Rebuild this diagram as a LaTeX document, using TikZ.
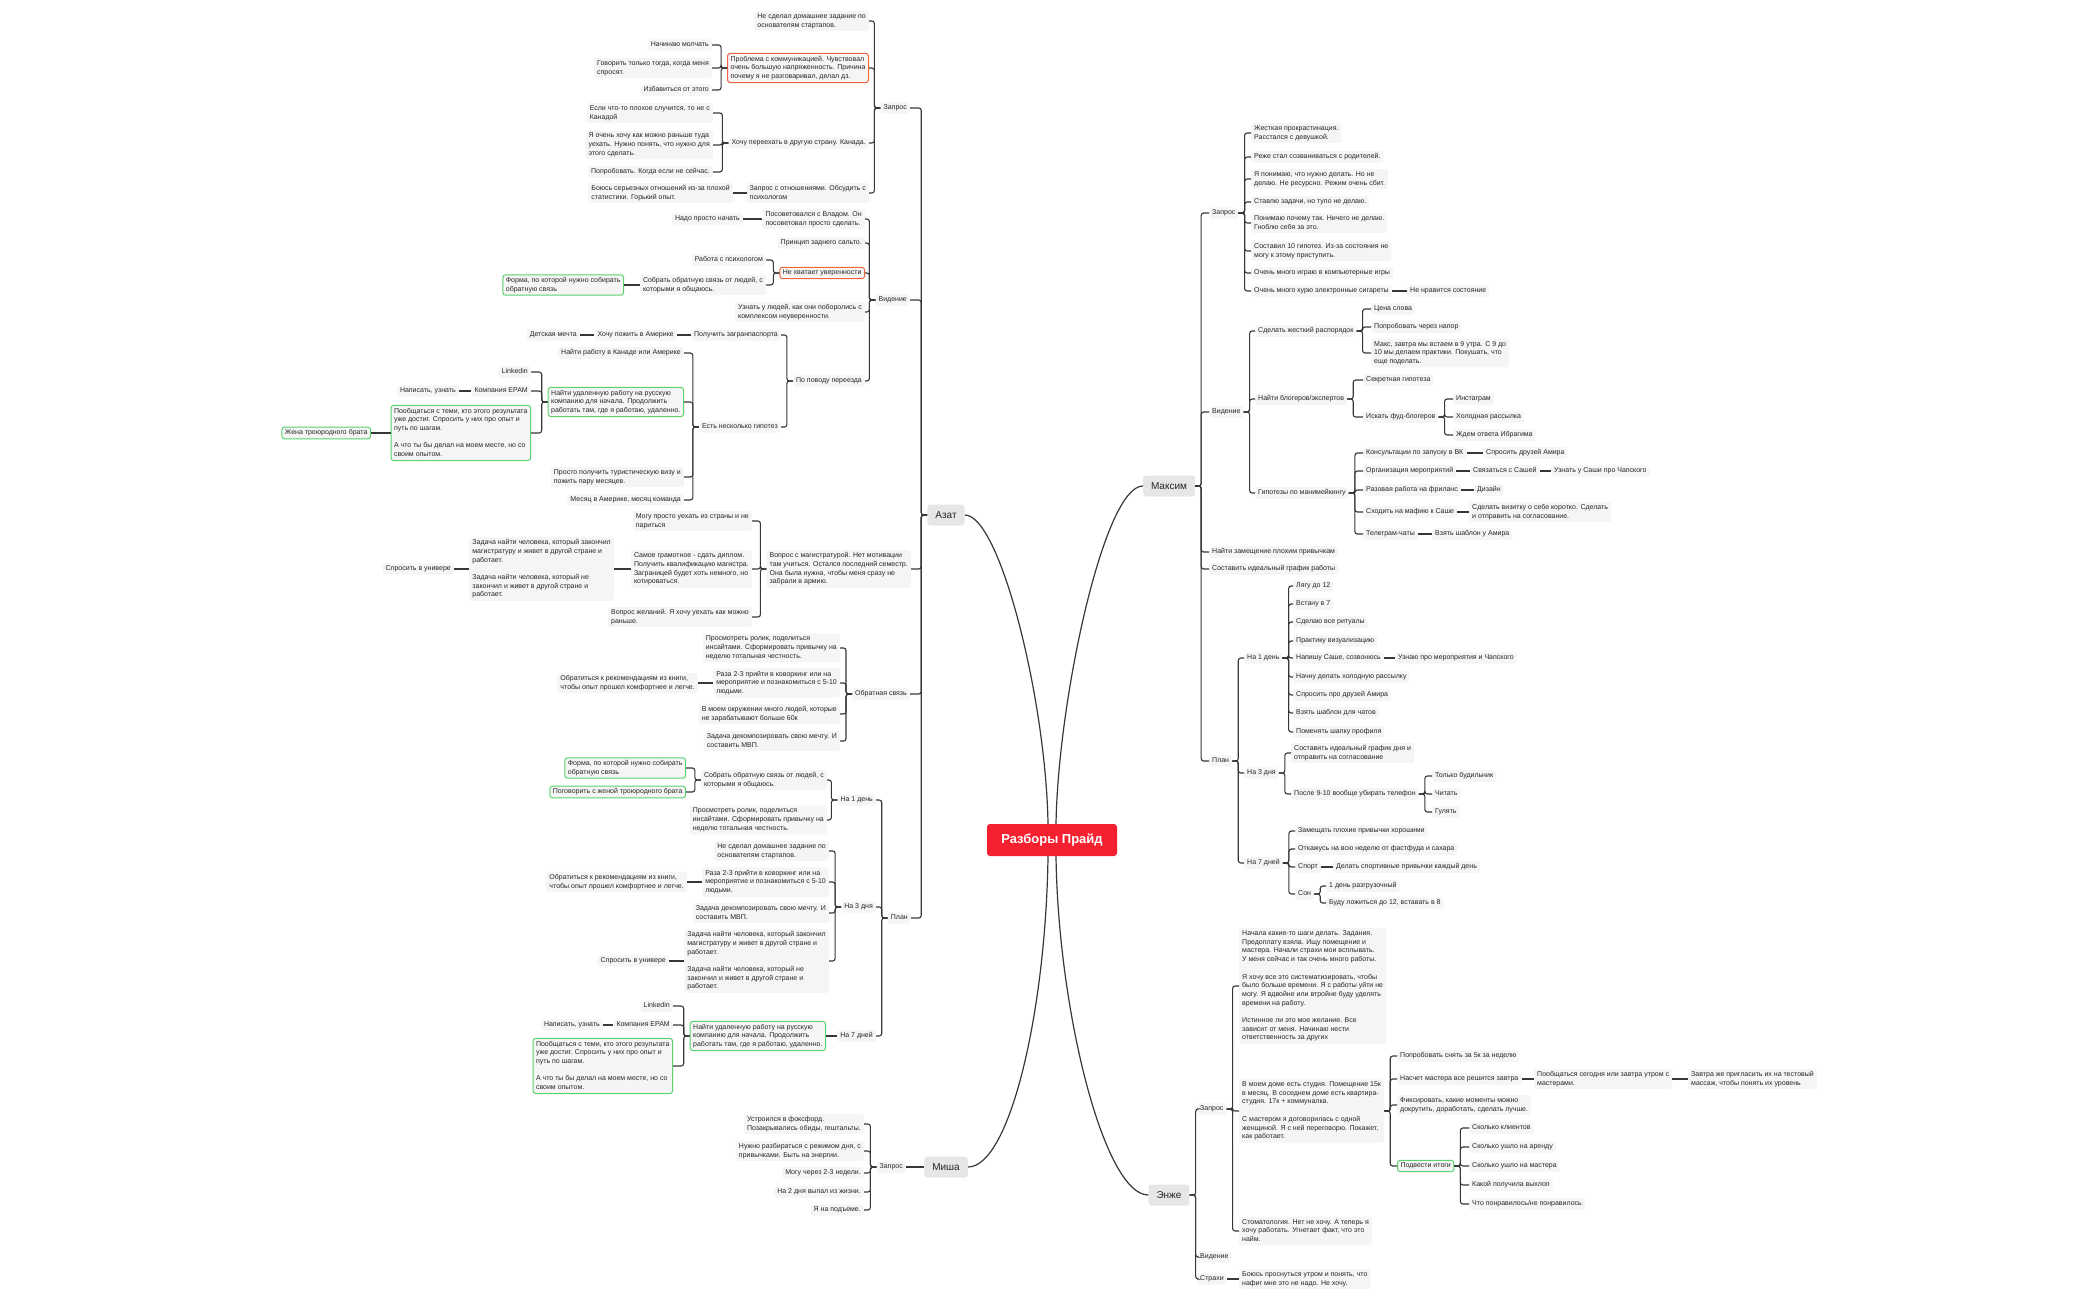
\documentclass[tikz,border=0pt]{standalone}
\usepackage{fontspec}
\setmainfont{Liberation Sans}
\definecolor{boxg}{RGB}{245,245,245}
\definecolor{brg}{RGB}{230,230,230}
\definecolor{lnc}{RGB}{55,55,55}
\definecolor{redb}{RGB}{240,100,60}
\definecolor{grnb}{RGB}{90,210,110}
\definecolor{mainr}{RGB}{245,32,48}
\tikzset{
 bx/.style={fill=boxg,rounded corners=2.5,inner xsep=3,inner ysep=2.5,align=left,font=\fontsize{7}{8.7}\selectfont,text=black!85,execute at begin node=\vphantom{Ау},execute at end node=\vphantom{Ау}},
 lb/.style={bx,anchor=east},
 rb/.style={bx,anchor=west},
 rbx/.style={draw=redb,line width=1},
 gbx/.style={draw=grnb,line width=1},
 conn/.style={draw=lnc,line width=1.1,rounded corners=2.5},
 br/.style={fill=brg,rounded corners=3,font=\fontsize{10}{12}\selectfont,text=black!85,minimum height=21,inner xsep=8},
 curve/.style={draw=lnc,line width=1.2}
}
\newcommand\lk[2]{\draw[conn] (#1.west) -- ++(-6,0) |- (#2.east);}
\newcommand\rk[2]{\draw[conn] (#1.east) -- ++(6,0) |- (#2.west);}
\newcommand\slk[2]{\draw[conn] (#1.west) -- (#2.east);}
\newcommand\srk[2]{\draw[conn] (#1.east) -- (#2.west);}
\begin{document}
\begin{tikzpicture}[x=1pt,y=-1pt]
\useasboundingbox (0,0) rectangle (2100,1300);
% center
\node[fill=mainr,rounded corners=3,minimum width=130,minimum height=32,text=white,font=\fontsize{13}{15}\selectfont\bfseries] (C) at (1052,840) {Разборы Прайд};
\node[br] (Az) at (946,515) {Азат};
\node[br] (Mx) at (1169,486) {Максим};
\node[br] (Mi) at (946,1167) {Миша};
\node[br] (En) at (1169,1195) {Энже};
\draw[curve] (1048,824) .. controls (1046,700) and (1000,515) .. (Az.east);
\draw[curve] (1056,824) .. controls (1058,700) and (1104,486) .. (Mx.west);
\draw[curve] (1048,856) .. controls (1046,1010) and (1010,1167) .. (Mi.east);
\draw[curve] (1056,856) .. controls (1058,1010) and (1104,1195) .. (En.west);

% ===== Azat: Запрос
\node[lb] (aq) at (910,108) {Запрос};
\node[lb] (aq1) at (869,21) {Не сделал домашнее задание по\\основателям стартапов.};
\node[lb,rbx] (aq2) at (869,68) {Проблема с коммуникацией. Чувствовал\\очень большую напряженность. Причина\\почему я не разговаривал, делал дз.};
\node[lb] (aq3) at (869,143) {Хочу переехать в другую страну. Канада.};
\node[lb] (aq4) at (869,193) {Запрос с отношениями. Обсудить с\\психологом};
\node[lb] (aq21) at (712,45) {Начинаю молчать};
\node[lb] (aq22) at (712,68) {Говорить только тогда, когда меня\\спросят.};
\node[lb] (aq23) at (712,90) {Избавиться от этого};
\node[lb] (aq31) at (713,113) {Если что-то плохое случится, то не с\\Канадой};
\node[lb] (aq32) at (713,145) {Я очень хочу как можно раньше туда\\уехать. Нужно понять, что нужно для\\этого сделать.};
\node[lb] (aq33) at (713,172) {Попробовать. Когда если не сейчас.};
\node[lb] (aq41) at (733,193) {Боюсь серьезных отношений из-за плохой\\статистики. Горький опыт.};
\lk{Az}{aq}
\lk{aq}{aq1}\lk{aq}{aq2}\lk{aq}{aq3}\lk{aq}{aq4}
\lk{aq2}{aq21}\lk{aq2}{aq22}\lk{aq2}{aq23}
\lk{aq3}{aq31}\lk{aq3}{aq32}\lk{aq3}{aq33}
\slk{aq4}{aq41}

% ===== Azat: Видение
\node[lb] (av) at (910,300) {Видение};
\node[lb] (av1) at (865,219) {Посоветовался с Владом. Он\\посоветовал просто сделать.};
\node[lb] (av11) at (743,219) {Надо просто начать};
\node[lb] (av2) at (865,243) {Принцип заднего сальто.};
\node[lb,rbx] (av3) at (865,273) {Не хватает уверенности};
\node[lb] (av31) at (766,260) {Работа с психологом};
\node[lb] (av32) at (766,285) {Собрать обратную связь от людей, с\\которыми я общаюсь.};
\node[lb,gbx] (av321) at (624,285) {Форма, по которой нужно собирать\\обратную связь};
\node[lb] (av4) at (865,312) {Узнать у людей, как они поборолись с\\комплексом неуверенности.};
\node[lb] (av5) at (865,381) {По поводу переезда};
\node[lb] (av51) at (781,335) {Получить загранпаспорта};
\node[lb] (av511) at (677,335) {Хочу пожить в Америке};
\node[lb] (av5111) at (580,335) {Детская мечта};
\node[lb] (av52) at (781,427) {Есть несколько гипотез};
\node[lb] (h1) at (684,353) {Найти работу в Канаде или Америке};
\node[lb,gbx] (h2) at (684,402) {Найти удаленную работу на русскую\\компанию для начала. Продолжить\\работать там, где я работаю, удаленно.};
\node[lb] (h21) at (531,372) {Linkedin};
\node[lb] (h22) at (531,391) {Компания EPAM};
\node[lb] (h221) at (459,391) {Написать, узнать};
\node[lb,gbx] (h23) at (531,433) {Пообщаться с теми, кто этого результата\\уже достиг. Спросить у них про опыт и\\путь по шагам.\\[8.7pt]А что ты бы делал на моем месте, но со\\своим опытом.};
\node[lb,gbx] (h231) at (371,433) {Жена троюродного брата};
\node[lb] (h3) at (684,477) {Просто получить туристическую визу и\\пожить пару месяцев.};
\node[lb] (h4) at (684,500) {Месяц в Америке, месяц команда};
\lk{Az}{av}
\lk{av}{av1}\lk{av}{av2}\lk{av}{av3}\lk{av}{av4}\lk{av}{av5}
\slk{av1}{av11}
\lk{av3}{av31}\lk{av3}{av32}\slk{av32}{av321}
\lk{av5}{av51}\lk{av5}{av52}
\slk{av51}{av511}\slk{av511}{av5111}
\lk{av52}{h1}\lk{av52}{h2}\lk{av52}{h3}\lk{av52}{h4}
\lk{h2}{h21}\lk{h2}{h22}\lk{h2}{h23}\slk{h22}{h221}\slk{h23}{h231}

% ===== Azat: Вопрос с магистратурой
\node[lb] (am) at (911,569) {Вопрос с магистратурой. Нет мотивации\\там учиться. Остался последний семестр.\\Она была нужна, чтобы меня сразу не\\забрали в армию.};
\node[lb] (am1) at (752,521) {Могу просто уехать из страны и не\\париться};
\node[lb] (am2) at (752,569) {Самое грамотное - сдать диплом.\\Получить квалификацию магистра.\\Заграницей будет хоть немного, но\\котироваться.};
\node[lb] (am21) at (614,569) {Задача найти человека, который закончил\\магистратуру и живет в другой стране и\\работает.\\[8.7pt]Задача найти человека, который не\\закончил и живет в другой стране и\\работает.};
\node[lb] (am211) at (454,569) {Спросить в универе};
\node[lb] (am3) at (752,617) {Вопрос желаний. Я хочу уехать как можно\\раньше.};
\lk{Az}{am}
\lk{am}{am1}\lk{am}{am2}\lk{am}{am3}\slk{am2}{am21}\slk{am21}{am211}

% ===== Azat: Обратная связь
\node[lb] (ao) at (910,694) {Обратная связь};
\node[lb] (ao1) at (840,648) {Просмотреть ролик, поделиться\\инсайтами. Сформировать привычку на\\неделю тотальная честность.};
\node[lb] (ao2) at (840,683) {Раза 2-3 прийти в коворкинг или на\\мероприятие и познакомиться с 5-10\\людьми.};
\node[lb] (ao21) at (698,683) {Обратиться к рекомендациям из книги,\\чтобы опыт прошел комфортнее и легче.};
\node[lb] (ao3) at (840,714) {В моем окружении много людей, которые\\не зарабатывают больше 60к};
\node[lb] (ao4) at (840,741) {Задача декомпозировать свою мечту. И\\составить МВП.};
\lk{Az}{ao}
\lk{ao}{ao1}\lk{ao}{ao2}\lk{ao}{ao3}\lk{ao}{ao4}\slk{ao2}{ao21}

% ===== Azat: План
\node[lb] (ap) at (911,918) {План};
\node[lb] (p1) at (876,800) {На 1 день};
\node[lb] (p11) at (827,780) {Собрать обратную связь от людей, с\\которыми я общаюсь.};
\node[lb,gbx] (p111) at (686,768) {Форма, по которой нужно собирать\\обратную связь};
\node[lb,gbx] (p112) at (686,792) {Поговорить с женой троюродного брата};
\node[lb] (p12) at (827,820) {Просмотреть ролик, поделиться\\инсайтами. Сформировать привычку на\\неделю тотальная честность.};
\node[lb] (p3) at (876,907) {На 3 дня};
\node[lb] (p31) at (829,851) {Не сделал домашнее задание по\\основателям стартапов.};
\node[lb] (p32) at (829,882) {Раза 2-3 прийти в коворкинг или на\\мероприятие и познакомиться с 5-10\\людьми.};
\node[lb] (p321) at (687,882) {Обратиться к рекомендациям из книги,\\чтобы опыт прошел комфортнее и легче.};
\node[lb] (p33) at (829,913) {Задача декомпозировать свою мечту. И\\составить МВП.};
\node[lb] (p34) at (829,961) {Задача найти человека, который закончил\\магистратуру и живет в другой стране и\\работает.\\[8.7pt]Задача найти человека, который не\\закончил и живет в другой стране и\\работает.};
\node[lb] (p341) at (669,961) {Спросить в универе};
\node[lb] (p7) at (876,1036) {На 7 дней};
\node[lb,gbx] (p71) at (826,1036) {Найти удаленную работу на русскую\\компанию для начала. Продолжить\\работать там, где я работаю, удаленно.};
\node[lb] (p711) at (673,1006) {Linkedin};
\node[lb] (p712) at (673,1025) {Компания EPAM};
\node[lb] (p7121) at (603,1025) {Написать, узнать};
\node[lb,gbx] (p713) at (673,1066) {Пообщаться с теми, кто этого результата\\уже достиг. Спросить у них про опыт и\\путь по шагам.\\[8.7pt]А что ты бы делал на моем месте, но со\\своим опытом.};
\lk{Az}{ap}
\lk{ap}{p1}\lk{ap}{p3}\lk{ap}{p7}
\lk{p1}{p11}\lk{p1}{p12}\lk{p11}{p111}\lk{p11}{p112}
\lk{p3}{p31}\lk{p3}{p32}\lk{p3}{p33}\lk{p3}{p34}\slk{p32}{p321}\slk{p34}{p341}
\slk{p7}{p71}\lk{p71}{p711}\lk{p71}{p712}\lk{p71}{p713}\slk{p712}{p7121}

% ===== Misha
\node[lb] (mq) at (906,1167) {Запрос};
\node[lb] (mq1) at (864,1124) {Устроился в фоксфорд.\\Позакрывались обиды, гештальты.};
\node[lb] (mq2) at (864,1151) {Нужно разбираться с режимом дня, с\\привычками. Быть на энергии.};
\node[lb] (mq3) at (864,1173) {Могу через 2-3 недели.};
\node[lb] (mq4) at (864,1192) {На 2 дня выпал из жизни.};
\node[lb] (mq5) at (864,1210) {Я на подъеме.};
\slk{Mi}{mq}
\lk{mq}{mq1}\lk{mq}{mq2}\lk{mq}{mq3}\lk{mq}{mq4}\lk{mq}{mq5}

% ===== Maksim: Запрос
\node[rb] (xq) at (1209,213) {Запрос};
\node[rb] (xq1) at (1251,133) {Жесткая прокрастинация.\\Расстался с девушкой.};
\node[rb] (xq2) at (1251,157) {Реже стал созваниваться с родителей.};
\node[rb] (xq3) at (1251,179) {Я понимаю, что нужно делать. Но не\\делаю. Не ресурсно. Режим очень сбит.};
\node[rb] (xq4) at (1251,202) {Ставлю задачи, но тупо не делаю.};
\node[rb] (xq5) at (1251,223) {Понимаю почему так. Ничего не делаю.\\Гноблю себя за это.};
\node[rb] (xq6) at (1251,251) {Составил 10 гипотез. Из-за состояния не\\могу к этому приступить.};
\node[rb] (xq7) at (1251,273) {Очень много играю в компьютерные игры};
\node[rb] (xq8) at (1251,291) {Очень много курю электронные сигареты};
\node[rb] (xq81) at (1407,291) {Не нравится состояние};
\rk{Mx}{xq}
\rk{xq}{xq1}\rk{xq}{xq2}\rk{xq}{xq3}\rk{xq}{xq4}\rk{xq}{xq5}\rk{xq}{xq6}\rk{xq}{xq7}\rk{xq}{xq8}\srk{xq8}{xq81}

% ===== Maksim: Видение
\node[rb] (xv) at (1209,412) {Видение};
\node[rb] (xv1) at (1255,331) {Сделать жесткий распорядок};
\node[rb] (xv11) at (1371,309) {Цена слова};
\node[rb] (xv12) at (1371,327) {Попробовать через напор};
\node[rb] (xv13) at (1371,353) {Макс, завтра мы встаем в 9 утра. С 9 до\\10 мы делаем практики. Покушать, что\\еще поделать.};
\node[rb] (xv2) at (1255,399) {Найти блогеров/экспертов};
\node[rb] (xv21) at (1363,380) {Секретная гипотеза};
\node[rb] (xv22) at (1363,417) {Искать фуд-блогеров};
\node[rb] (xv221) at (1453,399) {Инстаграм};
\node[rb] (xv222) at (1453,417) {Холодная рассылка};
\node[rb] (xv223) at (1453,435) {Ждем ответа Ибрагима};
\node[rb] (xv3) at (1255,493) {Гипотезы по манимейкингу};
\node[rb] (xv31) at (1363,453) {Консультации по запуску в ВК};
\node[rb] (xv311) at (1483,453) {Спросить друзей Амира};
\node[rb] (xv32) at (1363,471) {Организация мероприятий};
\node[rb] (xv321) at (1470,471) {Связаться с Сашей};
\node[rb] (xv3211) at (1551,471) {Узнать у Саши про Чапского};
\node[rb] (xv33) at (1363,490) {Разовая работа на фриланс};
\node[rb] (xv331) at (1474,490) {Дизайн};
\node[rb] (xv34) at (1363,512) {Сходить на мафию к Саше};
\node[rb] (xv341) at (1469,512) {Сделать визитку о себе коротко. Сделать\\и отправить на согласование.};
\node[rb] (xv35) at (1363,534) {Телеграм-чаты};
\node[rb] (xv351) at (1432,534) {Взять шаблон у Амира};
\rk{Mx}{xv}
\rk{xv}{xv1}\rk{xv}{xv2}\rk{xv}{xv3}
\rk{xv1}{xv11}\rk{xv1}{xv12}\rk{xv1}{xv13}
\rk{xv2}{xv21}\rk{xv2}{xv22}\rk{xv22}{xv221}\rk{xv22}{xv222}\rk{xv22}{xv223}
\rk{xv3}{xv31}\rk{xv3}{xv32}\rk{xv3}{xv33}\rk{xv3}{xv34}\rk{xv3}{xv35}
\srk{xv31}{xv311}\srk{xv32}{xv321}\srk{xv321}{xv3211}\srk{xv33}{xv331}\srk{xv34}{xv341}\srk{xv35}{xv351}
\node[rb] (xa) at (1209,552) {Найти замещение плохим привычкам};
\node[rb] (xb) at (1209,569) {Составить идеальный график работы};
\rk{Mx}{xa}\rk{Mx}{xb}

% ===== Maksim: План
\node[rb] (xp) at (1209,761) {План};
\node[rb] (xp1) at (1244,658) {На 1 день};
\node[rb] (xp11) at (1293,586) {Лягу до 12};
\node[rb] (xp12) at (1293,604) {Встану в 7};
\node[rb] (xp13) at (1293,622) {Сделаю все ритуалы};
\node[rb] (xp14) at (1293,641) {Практику визуализацию};
\node[rb] (xp15) at (1293,658) {Напишу Саше, созвонюсь};
\node[rb] (xp151) at (1395,658) {Узнаю про мероприятия и Чапского};
\node[rb] (xp16) at (1293,677) {Начну делать холодную рассылку};
\node[rb] (xp17) at (1293,695) {Спросить про друзей Амира};
\node[rb] (xp18) at (1293,713) {Взять шаблон для чатов};
\node[rb] (xp19) at (1293,732) {Поменять шапку профиля};
\node[rb] (xp3) at (1244,773) {На 3 дня};
\node[rb] (xp31) at (1291,753) {Составить идеальный график дня и\\отправить на согласование};
\node[rb] (xp32) at (1291,794) {После 9-10 вообще убирать телефон};
\node[rb] (xp321) at (1432,776) {Только будильник};
\node[rb] (xp322) at (1432,794) {Читать};
\node[rb] (xp323) at (1432,812) {Гулять};
\node[rb] (xp7) at (1244,863) {На 7 дней};
\node[rb] (xp71) at (1295,831) {Замещать плохие привычки хорошими};
\node[rb] (xp72) at (1295,849) {Откажусь на всю неделю от фастфуда и сахара};
\node[rb] (xp73) at (1295,867) {Спорт};
\node[rb] (xp731) at (1333,867) {Делать спортивные привычки каждый день};
\node[rb] (xp74) at (1295,894) {Сон};
\node[rb] (xp741) at (1326,886) {1 день разгрузочный};
\node[rb] (xp742) at (1326,903) {Буду ложиться до 12, вставать в 8};
\rk{Mx}{xp}
\rk{xp}{xp1}\rk{xp}{xp3}\rk{xp}{xp7}
\rk{xp1}{xp11}\rk{xp1}{xp12}\rk{xp1}{xp13}\rk{xp1}{xp14}\rk{xp1}{xp15}\rk{xp1}{xp16}\rk{xp1}{xp17}\rk{xp1}{xp18}\rk{xp1}{xp19}\srk{xp15}{xp151}
\rk{xp3}{xp31}\rk{xp3}{xp32}\rk{xp32}{xp321}\rk{xp32}{xp322}\rk{xp32}{xp323}
\rk{xp7}{xp71}\rk{xp7}{xp72}\rk{xp7}{xp73}\rk{xp7}{xp74}\srk{xp73}{xp731}\rk{xp74}{xp741}\rk{xp74}{xp742}

% ===== Enzhe
\node[rb] (eq) at (1197,1109) {Запрос};
\node[rb] (eq1) at (1239,986) {Начала какие-то шаги делать. Задания.\\Предоплату взяла. Ищу помещение и\\мастера. Начали страхи мои всплывать.\\У меня сейчас и так очень много работы.\\[8.7pt]Я хочу все это систематизировать, чтобы\\было больше времени. Я с работы уйти не\\могу. Я вдвойне или втройне буду уделять\\времени на работу.\\[8.7pt]Истинное ли это мое желание. Все\\зависит от меня. Начинаю нести\\ответственность за других};
\node[rb] (eq2) at (1239,1111) {В моем доме есть студия. Помещение 15к\\в месяц. В соседнем доме есть квартира-\\студия. 17к + коммуналка.\\[8.7pt]С мастером я договорилась с одной\\женщиной. Я с ней переговорю. Покажет,\\как работает.};
\node[rb] (eq21) at (1397,1056) {Попробовать снять за 5к за неделю};
\node[rb] (eq22) at (1397,1079) {Насчет мастера все решится завтра};
\node[rb] (eq221) at (1534,1079) {Пообщаться сегодня или завтра утром с\\мастерами.};
\node[rb] (eq2211) at (1688,1079) {Завтра же пригласить их на тестовый\\массаж, чтобы понять их уровень};
\node[rb] (eq23) at (1397,1105) {Фиксировать, какие моменты можно\\докрутить, доработать, сделать лучше.};
\node[rb,gbx] (eq24) at (1397,1166) {Подвести итоги};
\node[rb] (eq241) at (1469,1128) {Сколько клиентов};
\node[rb] (eq242) at (1469,1147) {Сколько ушло на аренду};
\node[rb] (eq243) at (1469,1166) {Сколько ушло на мастера};
\node[rb] (eq244) at (1469,1185) {Какой получила выхлоп};
\node[rb] (eq245) at (1469,1204) {Что понравилось/не понравилось};
\node[rb] (eq3) at (1239,1231) {Стоматология. Нет не хочу. А теперь я\\хочу работать. Угнетает факт, что это\\найм.};
\node[rb] (ev) at (1197,1257) {Видение};
\node[rb] (es) at (1197,1279) {Страхи};
\node[rb] (es1) at (1239,1279) {Боюсь проснуться утром и понять, что\\нафиг мне это не надо. Не хочу.};
\rk{En}{eq}\rk{En}{ev}\rk{En}{es}
\rk{eq}{eq1}\rk{eq}{eq2}\rk{eq}{eq3}
\rk{eq2}{eq21}\rk{eq2}{eq22}\rk{eq2}{eq23}\rk{eq2}{eq24}
\srk{eq22}{eq221}\srk{eq221}{eq2211}
\rk{eq24}{eq241}\rk{eq24}{eq242}\rk{eq24}{eq243}\rk{eq24}{eq244}\rk{eq24}{eq245}
\srk{es}{es1}
\end{tikzpicture}
\end{document}
